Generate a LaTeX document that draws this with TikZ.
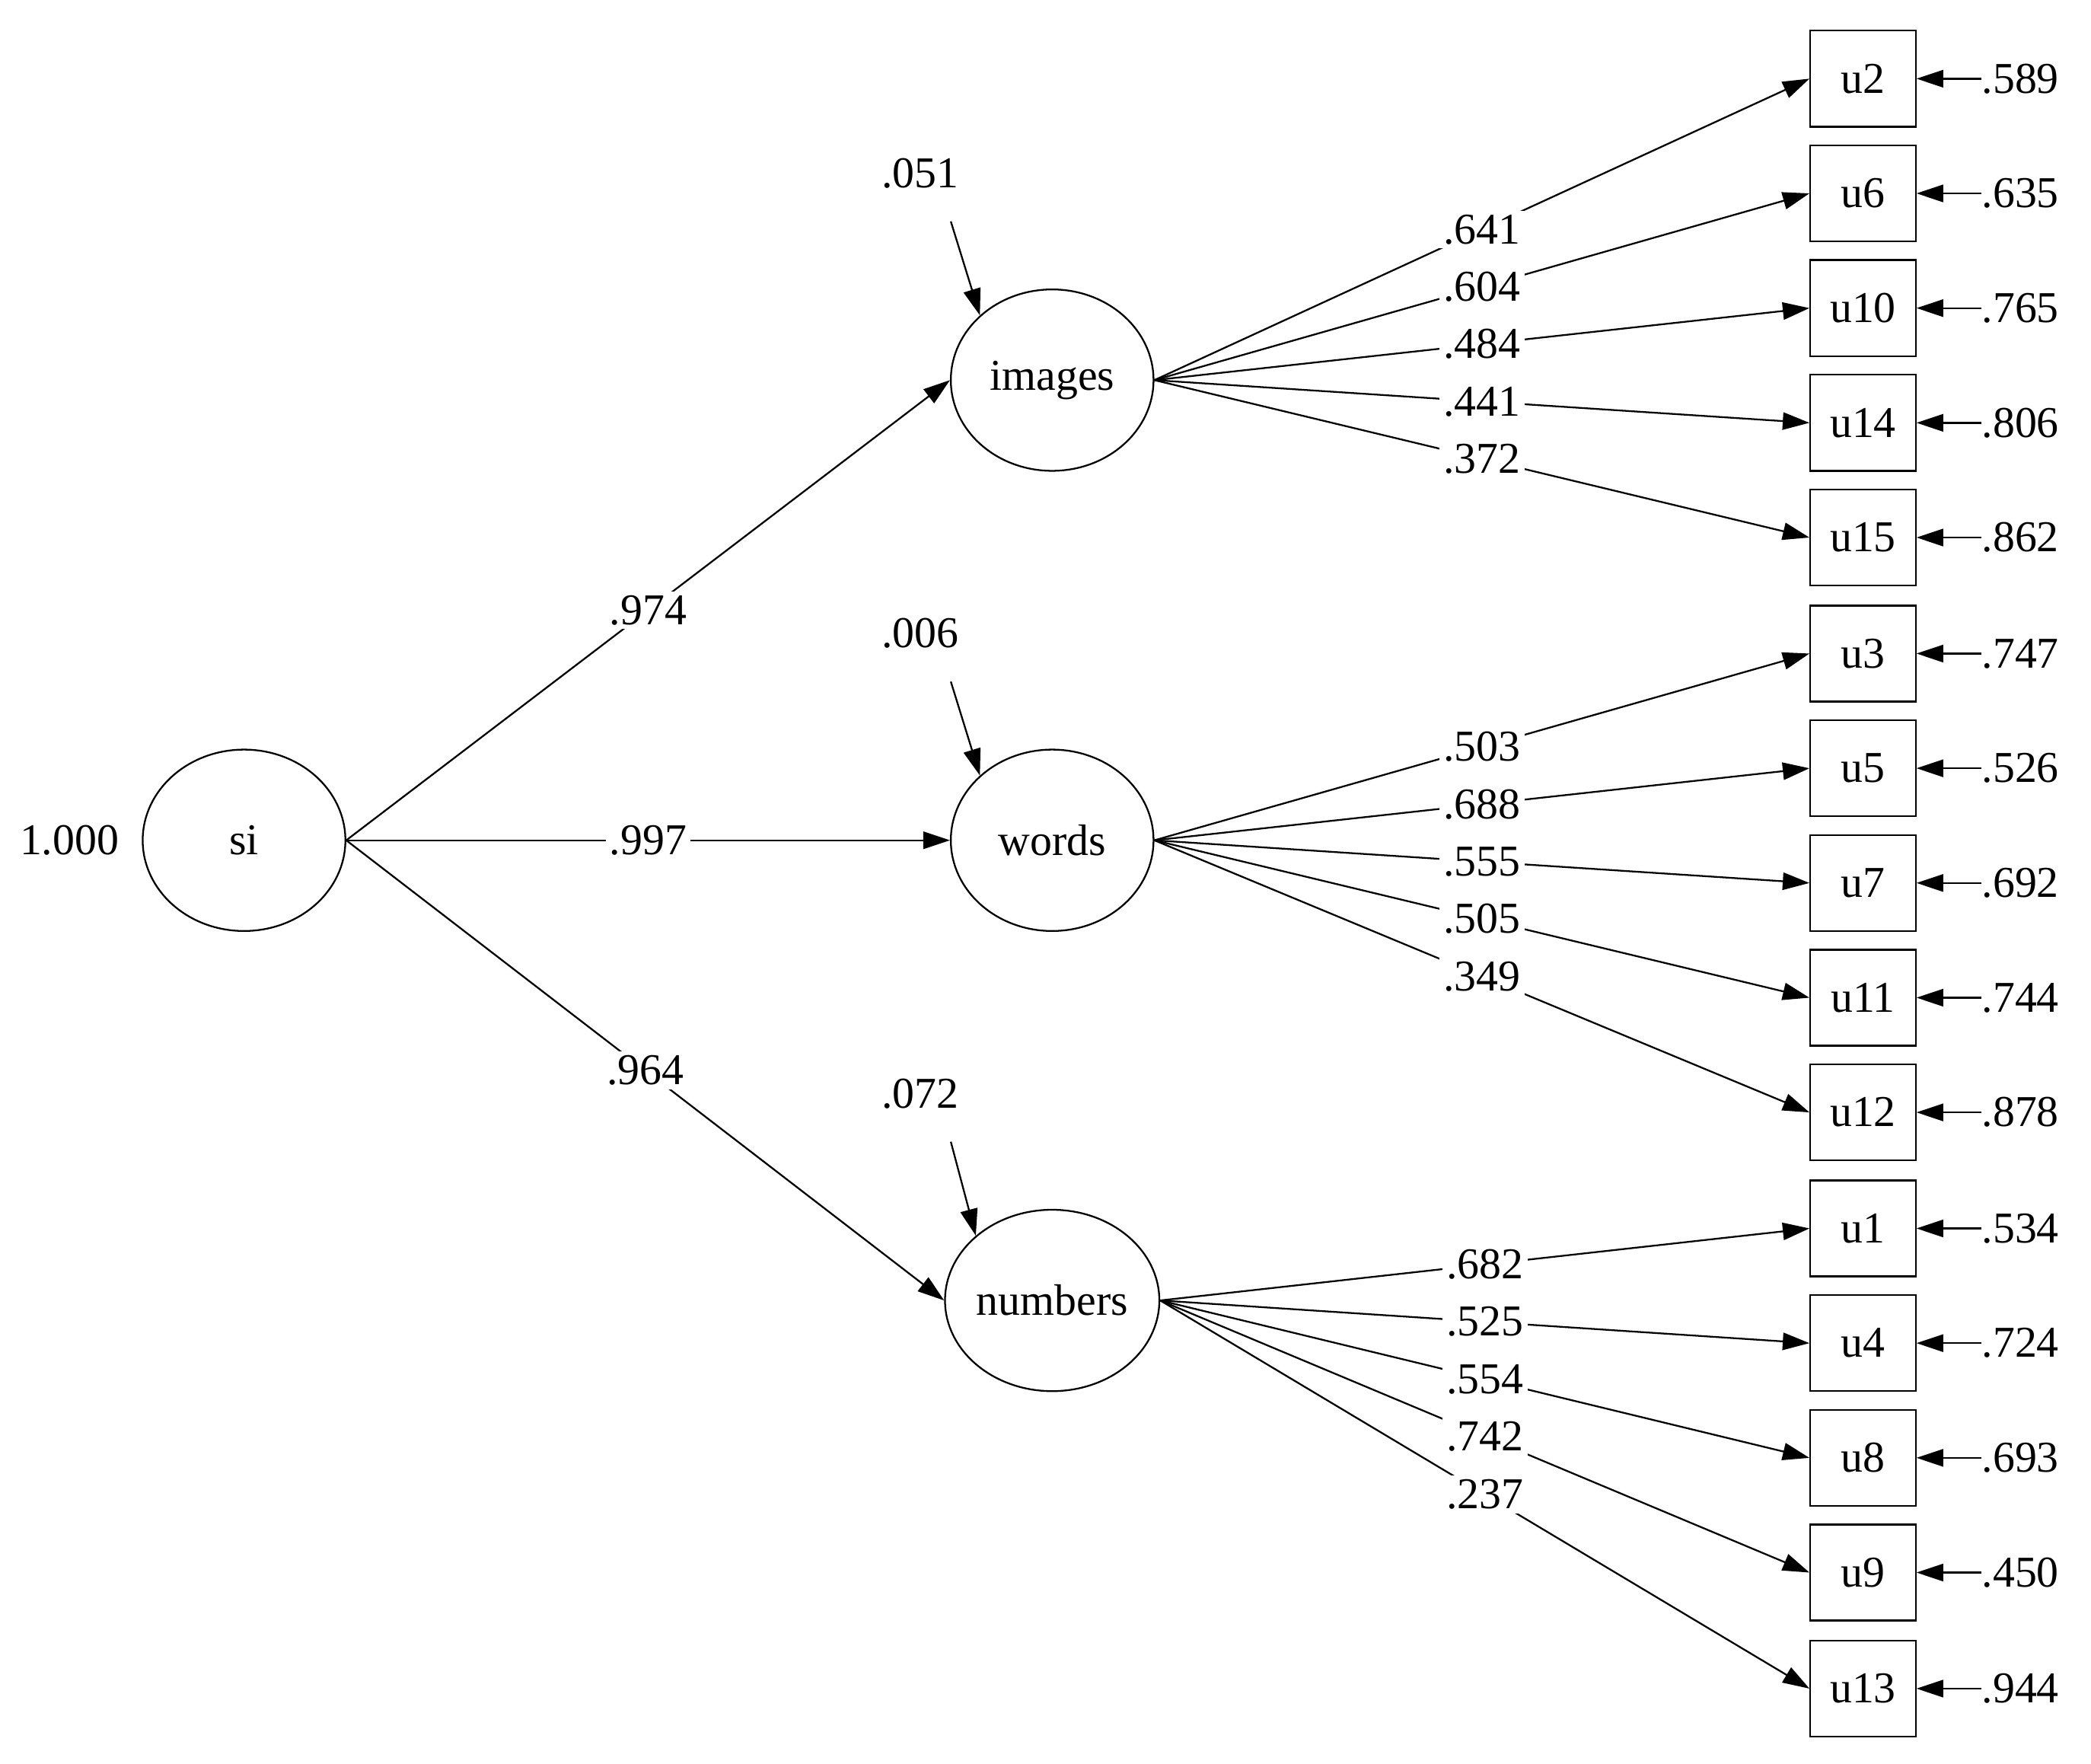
\documentclass[tikz,border=0pt]{standalone}
\usepackage{fontspec}
\setmainfont{Liberation Serif}
\usetikzlibrary{arrows.meta,shapes.geometric}
\begin{document}
\begin{tikzpicture}[x=1pt,y=-1pt,
  every node/.style={font=\fontsize{33}{38}\selectfont},
  lat/.style={draw,ellipse,line width=1.3pt,minimum width=152pt,minimum height=136pt,inner sep=0pt},
  obs/.style={draw,rectangle,line width=1.3pt,minimum width=79pt,minimum height=72pt,inner sep=0pt},
  arr/.style={line width=1.3pt,-{Triangle[length=20pt,width=13pt]}},
  lab/.style={fill=white,inner sep=3pt}]
\useasboundingbox (0,0) rectangle (1568,1322);
\node[lat] (si) at (183,630) {si};
\node[lat] (images) at (789,285) {images};
\node[lat] (words) at (789,630) {words};
\node[lat] (numbers) at (789,975) {numbers};
\node (sv) at (52,630) {1.000};
\draw[arr] (si.east) -- node[lab,pos=0.5]{.974} (images.west);
\draw[arr] (si.east) -- node[lab,pos=0.5]{.997} (words.west);
\draw[arr] (si.east) -- node[lab,pos=0.5]{.964} (numbers.west);
\foreach \f/\v/\y in {images/.051/130,words/.006/475,numbers/.072/820}{
  \node (d\f) at (690,\y) {\v};
  \coordinate (ds\f) at (713,\y+36);
  \draw[arr] (ds\f) -- (\f.north west);
}
\foreach \u/\y/\f/\l/\e in {u2/59/images/.641/.589,u6/145/images/.604/.635,u10/231/images/.484/.765,u14/317/images/.441/.806,u15/403/images/.372/.862,
  u3/490/words/.503/.747,u5/576/words/.688/.526,u7/662/words/.555/.692,u11/748/words/.505/.744,u12/834/words/.349/.878,
  u1/921/numbers/.682/.534,u4/1007/numbers/.525/.724,u8/1093/numbers/.554/.693,u9/1179/numbers/.742/.450,u13/1266/numbers/.237/.944}{
  \node[obs] (\u) at (1397,\y) {\u};
  \draw[arr] (\f.east) -- node[lab,pos=0.5]{\l} (\u.west);
  \node[anchor=west,inner sep=0pt] (e\u) at (1486,\y) {\e};
  \draw[arr] (e\u.west) -- (\u.east);
}
\end{tikzpicture}
\end{document}
